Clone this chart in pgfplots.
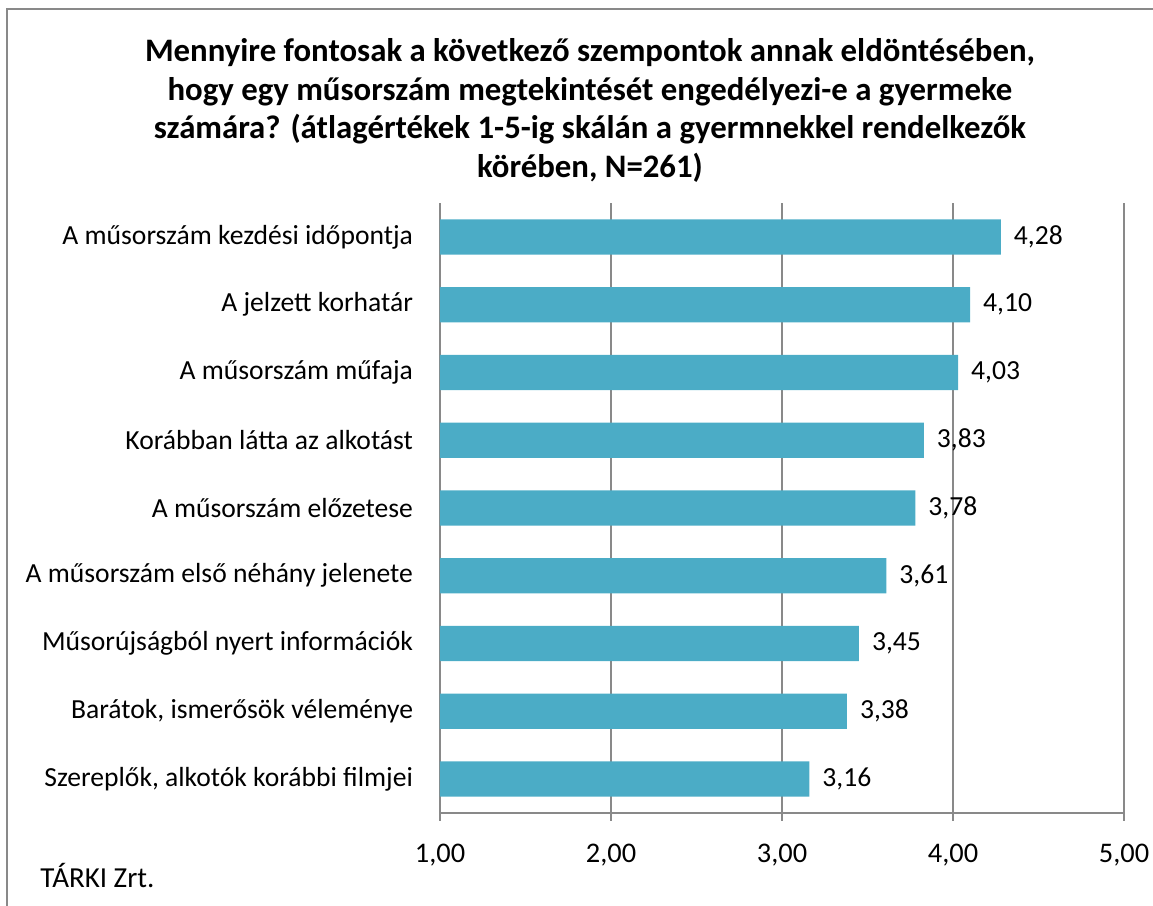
\documentclass[border=0pt]{standalone}
\usepackage{pgfplots}
\pgfplotsset{compat=1.18}
\usepackage{fontspec}
\setmainfont{Carlito}
\definecolor{barc}{HTML}{4BACC6}
\definecolor{axc}{HTML}{898989}
\begin{document}
\begin{tikzpicture}[x=0.5pt,y=0.5pt]
\useasboundingbox (0,0) rectangle (1153,906);
\draw[axc, line width=1.1pt] (7,0) -- (7,897) -- (1153,897);
\node[font=\bfseries\fontsize{16.4}{19.4}\selectfont, align=center, anchor=center] at (590,795.5)
{Mennyire fontosak a következő szempontok annak eldöntésében,\\
hogy egy műsorszám megtekintését engedélyezi-e a gyermeke\\
számára? (átlagértékek 1-5-ig skálán a gyermnekkel rendelkezők\\
körében, N=261)};
\node[anchor=base west, font=\fontsize{14.5}{16}\selectfont, inner sep=0pt] at (40,18) {TÁRKI Zrt.};
\begin{axis}[
  at={(220pt,46.5pt)}, anchor=south west,
  scale only axis, width=342pt, height=305pt,
  xmin=1, xmax=5, ymin=-0.5, ymax=8.5,
  xtick={1,2,3,4,5},
  /pgf/number format/.cd, use comma, fixed, fixed zerofill, precision=2, assume math mode=true,
  /pgfplots/.cd,
  xmajorgrids, grid style={axc, line width=0.8pt},
  axis x line*=bottom, axis y line*=left,
  axis line style={axc, line width=0.8pt, -},
  tick align=outside,
  major tick length=4pt,
  xtick style={axc, line width=0.8pt},
  xticklabel style={font=\fontsize{14.2}{15}\selectfont, yshift=-8pt},
  ytick={0,1,2,3,4,5,6,7,8},
  yticklabels={{Szereplők, alkotók korábbi filmjei},{Barátok, ismerősök véleménye},{Műsorújságból nyert információk},{A műsorszám első néhány jelenete},{A műsorszám előzetese},{Korábban látta az alkotást},{A műsorszám műfaja},{A jelzett korhatár},{A műsorszám kezdési időpontja}},
  ytick style={draw=none},
  yticklabel style={font=\fontsize{13.8}{15}\selectfont, xshift=-6pt},
  extra y ticks={-0.5,0.5,1.5,2.5,3.5,4.5,5.5,6.5,7.5,8.5},
  extra y tick labels={},
  extra y tick style={ytick style={axc, line width=0.8pt}, major tick length=4pt},
]
\addplot[xbar, fill=barc, draw=none, bar width=0.52,
  nodes near coords,
  nodes near coords style={font=\fontsize{13.8}{15}\selectfont, xshift=3pt, text=black}]
coordinates {(3.16,0) (3.38,1) (3.45,2) (3.61,3) (3.78,4) (3.83,5) (4.03,6) (4.10,7) (4.28,8)};
\end{axis}
\end{tikzpicture}
\end{document}
